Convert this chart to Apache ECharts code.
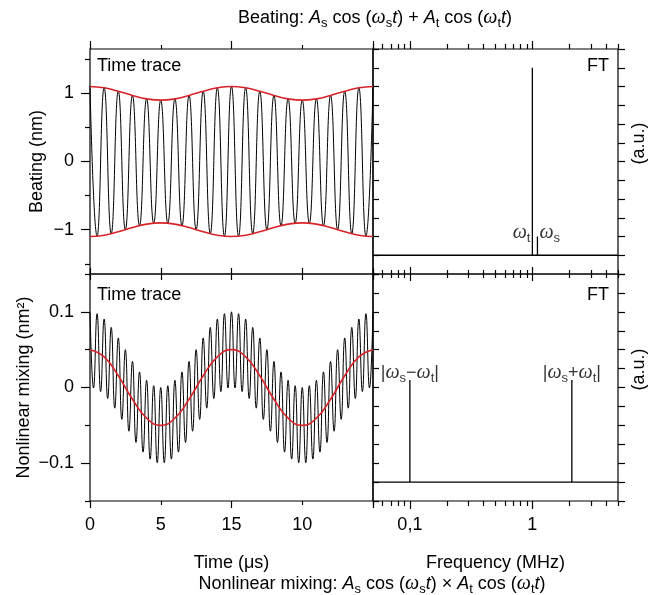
<!DOCTYPE html>
<html>
<head>
<meta charset="utf-8">
<script src="https://cdn.jsdelivr.net/npm/echarts@6/dist/echarts.min.js"></script>
<style>html,body{margin:0;background:#fff}#chart{width:649px;height:595px}</style>
</head>
<body>
<div id="chart"></div>
<script>
// --- time axis (µs) ---
const timeTicks = [0, 5, 10, 15, 20];
const timeTickLabels = ['0', '5', '15', '10', ''];
const timeMajor = [0, 10, 20];
const timeMinor = [5, 15];

// --- beating trace: extrema every half carrier period ---
const beatHalfPeriod = 0.5;
const beatPeaks = [1.1, 1.081, 1.031, 0.969, 0.919, 0.9, 0.919, 0.969, 1.031, 1.081, 1.1,
  1.081, 1.031, 0.969, 0.919, 0.9, 0.919, 0.969, 1.031, 1.081, 1.1];
const beatTroughs = [-1.095, -1.059, -1.0, -0.941, -0.905, -0.905, -0.941, -1.0, -1.059, -1.095,
  -1.095, -1.059, -1.0, -0.941, -0.905, -0.905, -0.941, -1.0, -1.059, -1.095];
// envelope, one sample per µs
const envStep = 1;
const envUpper = [1.1, 1.081, 1.031, 0.969, 0.919, 0.9, 0.919, 0.969, 1.031, 1.081, 1.1,
  1.081, 1.031, 0.969, 0.919, 0.9, 0.919, 0.969, 1.031, 1.081, 1.1];
const envLower = [-1.1, -1.081, -1.031, -0.969, -0.919, -0.9, -0.919, -0.969, -1.031, -1.081, -1.1,
  -1.081, -1.031, -0.969, -0.919, -0.9, -0.919, -0.969, -1.031, -1.081, -1.1];
const beatYMajor = [-1, 0, 1];
const beatYLabels = ['\u22121', '0', '1'];
const beatYMinor = [-1.5, -0.5, 0.5, 1.5];

// --- nonlinear mixing trace: extrema every 0.25 µs ---
const mixHalfPeriod = 0.25;
const mixPeaks = [0.1, 0.0976, 0.0905, 0.0794, 0.0655, 0.05, 0.0345, 0.0206, 0.0095, 0.0024, 0,
  0.0024, 0.0095, 0.0206, 0.0345, 0.05, 0.0655, 0.0794, 0.0905, 0.0976, 0.1,
  0.0976, 0.0905, 0.0794, 0.0655, 0.05, 0.0345, 0.0206, 0.0095, 0.0024, 0,
  0.0024, 0.0095, 0.0206, 0.0345, 0.05, 0.0655, 0.0794, 0.0905, 0.0976, 0.1];
const mixTroughs = [-0.0006, -0.0054, -0.0146, -0.0273, -0.0422, -0.0578, -0.0727, -0.0854, -0.0946, -0.0994,
  -0.0994, -0.0946, -0.0854, -0.0727, -0.0578, -0.0422, -0.0273, -0.0146, -0.0054, -0.0006,
  -0.0006, -0.0054, -0.0146, -0.0273, -0.0422, -0.0578, -0.0727, -0.0854, -0.0946, -0.0994,
  -0.0994, -0.0946, -0.0854, -0.0727, -0.0578, -0.0422, -0.0273, -0.0146, -0.0054, -0.0006];
const slowWave = [0.05, 0.0405, 0.0155, -0.0155, -0.0405, -0.05, -0.0405, -0.0155, 0.0155, 0.0405, 0.05,
  0.0405, 0.0155, -0.0155, -0.0405, -0.05, -0.0405, -0.0155, 0.0155, 0.0405, 0.05];
const mixYMajor = [-0.1, 0, 0.1];
const mixYLabels = ['\u22120.1', '0', '0.1'];
const mixYMinor = [-0.15, -0.05, 0.05, 0.15];

// --- spectra (MHz, a.u.) ---
const freqRange = [0.05, 5];
const freqMajor = [0.1, 1];
const freqLabels = ['0,1', '1'];
const freqMinor = [0.05, 0.06, 0.07, 0.08, 0.09, 0.2, 0.3, 0.4, 0.5, 0.6, 0.7, 0.8, 0.9, 2, 3, 4, 5];
const beatFreqs = [1.0, 1.1];   // ω_t, ω_s
const beatAmps = [10, 1];
const mixFreqs = [0.1, 2.1];    // |ω_s−ω_t|, |ω_s+ω_t|
const mixAmps = [5.4, 5.4];

const sans = '"Liberation Sans", Arial, Helvetica, sans-serif';
const serif = '"Liberation Serif", "Times New Roman", serif';
const red = '#d8232a';

const rich = {
  n: { fontFamily: sans, fontSize: 18, color: '#000', lineHeight: 24 },
  i: { fontFamily: sans, fontStyle: 'italic', fontSize: 18, color: '#000', lineHeight: 24 },
  w: { fontFamily: serif, fontStyle: 'italic', fontSize: 20, color: '#000', lineHeight: 24 },
  s: { fontFamily: sans, fontSize: 13, color: '#000', lineHeight: 12, verticalAlign: 'bottom' }
};

function interleave(peaks, troughs, step) {
  const pts = [];
  peaks.forEach((p, i) => {
    pts.push([2 * i * step, p]);
    if (i < troughs.length) pts.push([(2 * i + 1) * step, troughs[i]]);
  });
  return pts;
}
function sampled(vals, step) {
  return vals.map((v, i) => [i * step, v]);
}
function spectrum(freqs, amps) {
  const pts = [[freqRange[0], 0]];
  freqs.forEach((f, i) => { pts.push([f, 0], [f, amps[i]], [f, 0]); });
  pts.push([freqRange[1], 0]);
  return pts;
}
function pick(values, labels) {
  return v => {
    const i = values.findIndex(x => Math.abs(x - v) <= 1e-6 * Math.max(1, Math.abs(x)));
    return i < 0 ? '' : labels[i];
  };
}

const tickStyle = { color: '#000', width: 1.2 };
function ax(o) {
  const a = {
    gridIndex: o.grid, type: o.type || 'value', position: o.pos,
    min: o.min, max: o.max,
    axisLine: { show: false, onZero: false }, splitLine: { show: false },
    axisTick: { show: true, inside: !!o.inside, length: o.len, lineStyle: tickStyle },
    axisLabel: { show: false }
  };
  if (a.type === 'log') a.logBase = 10;
  if (o.ticks) a.axisTick.customValues = o.ticks;
  if (o.interval) a.interval = o.interval;
  if (o.labels) {
    a.axisLabel = { show: true, customValues: o.labels, formatter: o.fmt, margin: o.margin,
      fontFamily: sans, fontSize: 18, color: '#000' };
  }
  if (o.name) {
    a.name = o.name;
    a.nameLocation = 'middle';
    a.nameGap = o.gap;
    a.nameRotate = o.rot;
    a.nameTextStyle = Object.assign({ fontFamily: sans, fontSize: 18, color: '#000' }, o.nameStyle || {});
  }
  return a;
}
const T = { min: 0, max: 20 };
const F = { type: 'log', min: freqRange[0], max: freqRange[1] };
const BY = { min: -1.65, max: 1.65 };
const MY = { min: -0.15, max: 0.15 };
const AY = { min: -1, max: 11, interval: 1 };

const titleTop = '{n|Beating: }{i|A}{s|s}{n| cos (}{w|\u03c9}{s|s}{i|t}{n|) + }{i|A}{s|t}{n| cos (}{w|\u03c9}{s|t}{i|t}{n|)}';
const titleBottom = '{n|Nonlinear mixing: }{i|A}{s|s}{n| cos (}{w|\u03c9}{s|s}{i|t}{n|) \u00d7 }{i|A}{s|t}{n| cos (}{w|\u03c9}{s|t}{i|t}{n|)}';

function txt(x, y, text, align, vAlign) {
  return { type: 'text', x, y, silent: true,
    style: { text, rich, align, verticalAlign: vAlign, textAlign: align, textVerticalAlign: vAlign,
      font: '18px ' + sans, fill: '#000' } };
}

const chart = echarts.init(document.getElementById('chart'), null, { renderer: 'canvas' });
chart.setOption({
  animation: false,
  backgroundColor: '#fff',
  grid: [
    { left: 90, top: 49, width: 283, height: 225 },
    { left: 373, top: 49, width: 247, height: 225 },
    { left: 90, top: 274, width: 283, height: 227 },
    { left: 373, top: 274, width: 247, height: 227 }
  ].map(g => Object.assign({ show: true, borderColor: '#000', borderWidth: 1.2, backgroundColor: 'transparent' }, g)),
  xAxis: [
    ax(Object.assign({ grid: 0, pos: 'bottom', ticks: timeTicks, len: 6, inside: true }, T)),   // 0
    ax(Object.assign({ grid: 0, pos: 'top', ticks: timeMajor, len: 8 }, T)),                    // 1
    ax(Object.assign({ grid: 0, pos: 'top', ticks: timeMinor, len: 4 }, T)),                    // 2
    ax(Object.assign({ grid: 1, pos: 'bottom', ticks: freqMajor, len: 7, inside: true }, F)),   // 3
    ax(Object.assign({ grid: 1, pos: 'bottom', ticks: freqMinor, len: 4, inside: true }, F)),   // 4
    ax(Object.assign({ grid: 1, pos: 'top', ticks: freqMajor, len: 8 }, F)),                    // 5
    ax(Object.assign({ grid: 1, pos: 'top', ticks: freqMinor, len: 5 }, F)),                    // 6
    ax(Object.assign({ grid: 2, pos: 'bottom', ticks: timeMajor, len: 7, labels: timeTicks,
      fmt: pick(timeTicks, timeTickLabels), margin: 15, name: 'Time (\u03bcs)', gap: 53 }, T)), // 7
    ax(Object.assign({ grid: 2, pos: 'bottom', ticks: timeMinor, len: 4 }, T)),                 // 8
    ax(Object.assign({ grid: 2, pos: 'top', ticks: timeTicks, len: 6, inside: true }, T)),      // 9
    ax(Object.assign({ grid: 3, pos: 'bottom', ticks: freqMajor, len: 8, labels: freqMajor,
      fmt: pick(freqMajor, freqLabels), margin: 15, name: 'Frequency (MHz)', gap: 53 }, F)),   // 10
    ax(Object.assign({ grid: 3, pos: 'bottom', ticks: freqMinor, len: 5 }, F)),                 // 11
    ax(Object.assign({ grid: 3, pos: 'top', ticks: freqMajor, len: 7, inside: true }, F)),      // 12
    ax(Object.assign({ grid: 3, pos: 'top', ticks: freqMinor, len: 4, inside: true }, F))       // 13
  ],
  yAxis: [
    ax(Object.assign({ grid: 0, pos: 'left', ticks: beatYMajor, len: 9, labels: beatYMajor,
      fmt: pick(beatYMajor, beatYLabels), margin: 16, name: 'Beating (nm)', gap: 44, rot: 90 }, BY)), // 0
    ax(Object.assign({ grid: 0, pos: 'left', ticks: beatYMinor, len: 5 }, BY)),                          // 1
    ax(Object.assign({ grid: 1, pos: 'left', len: 6, inside: true }, AY)),                               // 2
    ax(Object.assign({ grid: 1, pos: 'right', len: 7, name: '(a.u.)', gap: 12, rot: 90,
      nameStyle: { padding: [0, 0, 0, 36] } }, AY)),                                                    // 3
    ax(Object.assign({ grid: 2, pos: 'left', ticks: mixYMajor, len: 9, labels: mixYMajor,
      fmt: pick(mixYMajor, mixYLabels), margin: 16, name: 'Nonlinear mixing (nm\u00b2)', gap: 57, rot: 90 }, MY)), // 4
    ax(Object.assign({ grid: 2, pos: 'left', ticks: mixYMinor, len: 5 }, MY)),                           // 5
    ax(Object.assign({ grid: 3, pos: 'left', len: 6, inside: true }, AY)),                               // 6
    ax(Object.assign({ grid: 3, pos: 'right', len: 7, name: '(a.u.)', gap: 12, rot: 90,
      nameStyle: { padding: [0, 0, 0, 36] } }, AY))                                                     // 7
  ],
  graphic: [
    txt(375, 18, titleTop, 'center', 'middle'),
    txt(372, 584, titleBottom, 'center', 'middle'),
    txt(97, 54, '{n|Time trace}', 'left', 'top'),
    txt(609, 54, '{n|FT}', 'right', 'top'),
    txt(97, 283, '{n|Time trace}', 'left', 'top'),
    txt(609, 283, '{n|FT}', 'right', 'top')
  ],
  series: [
    { type: 'line', xAxisIndex: 0, yAxisIndex: 0, data: interleave(beatPeaks, beatTroughs, beatHalfPeriod),
      smooth: 0.5, showSymbol: false, lineStyle: { color: '#000', width: 1 } },
    { type: 'line', xAxisIndex: 0, yAxisIndex: 0, data: sampled(envUpper, envStep),
      smooth: 0.5, showSymbol: false, lineStyle: { color: red, width: 1.6 } },
    { type: 'line', xAxisIndex: 0, yAxisIndex: 0, data: sampled(envLower, envStep),
      smooth: 0.5, showSymbol: false, lineStyle: { color: red, width: 1.6 } },
    { type: 'line', xAxisIndex: 3, yAxisIndex: 2, data: spectrum(beatFreqs, beatAmps),
      showSymbol: false, lineStyle: { color: '#000', width: 1.3 } },
    { type: 'scatter', xAxisIndex: 3, yAxisIndex: 2, symbolSize: 0, silent: true,
      label: { show: true, rich, distance: 2 },
      data: [
        { value: [beatFreqs[0], beatAmps[1]], label: { position: 'left', offset: [0, -4], formatter: '{w|\u03c9}{s|t}' } },
        { value: [beatFreqs[1], beatAmps[1]], label: { position: 'right', offset: [0, -4], formatter: '{w|\u03c9}{s|s}' } }
      ] },
    { type: 'line', xAxisIndex: 7, yAxisIndex: 4, data: interleave(mixPeaks, mixTroughs, mixHalfPeriod),
      smooth: 0.5, showSymbol: false, lineStyle: { color: '#000', width: 1 } },
    { type: 'line', xAxisIndex: 7, yAxisIndex: 4, data: sampled(slowWave, envStep),
      smooth: 0.5, showSymbol: false, lineStyle: { color: red, width: 1.6 } },
    { type: 'line', xAxisIndex: 10, yAxisIndex: 6, data: spectrum(mixFreqs, mixAmps),
      showSymbol: false, lineStyle: { color: '#000', width: 1.3 } },
    { type: 'scatter', xAxisIndex: 10, yAxisIndex: 6, symbolSize: 0, silent: true,
      label: { show: true, rich, position: 'top', distance: 0, offset: [0, 5] },
      data: [
        { value: [mixFreqs[0], mixAmps[0]], label: { formatter: '{n||}{w|\u03c9}{s|s}{n|\u2212}{w|\u03c9}{s|t}{n||}' } },
        { value: [mixFreqs[1], mixAmps[1]], label: { formatter: '{n||}{w|\u03c9}{s|s}{n|+}{w|\u03c9}{s|t}{n||}' } }
      ] }
  ]
});
</script>
</body>
</html>
